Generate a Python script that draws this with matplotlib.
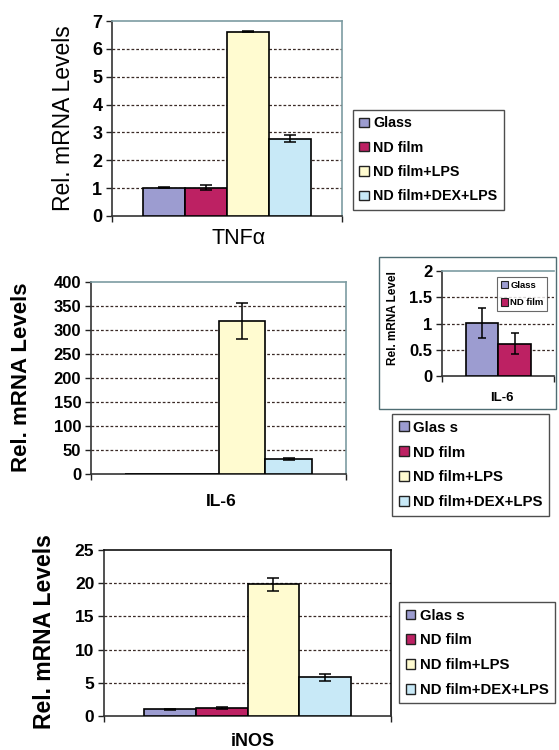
import matplotlib
matplotlib.use('Agg')
import matplotlib.pyplot as plt
from matplotlib.patches import Patch, Rectangle

plt.rcParams['font.family'] = ['Liberation Sans', 'DejaVu Sans']

# ---- data ----
groups = ['Glass', 'ND film', 'ND film+LPS', 'ND film+DEX+LPS']
legend_labels = {
    'top': ['Glass', 'ND film', 'ND film+LPS', 'ND film+DEX+LPS'],
    'mid': ['Glas s', 'ND film', 'ND film+LPS', 'ND film+DEX+LPS'],
    'bot': ['Glas s', 'ND film', 'ND film+LPS', 'ND film+DEX+LPS'],
}
bar_colors = ['#9c9cd0', '#bd2163', '#fffbd0', '#c8e9f7']

tnf_vals = [1.02, 1.02, 6.61, 2.77]
tnf_err = [0.03, 0.10, 0.02, 0.13]

il6_vals = [1.01, 0.61, 319, 31]
il6_err = [0.29, 0.20, 37.5, 2]

inset_groups = ['Glass', 'ND film']
inset_vals = [1.01, 0.61]
inset_err = [0.29, 0.20]

inos_vals = [1.0, 1.15, 19.85, 5.85]
inos_err = [0.08, 0.15, 0.95, 0.55]

W, H = 559, 750
fig = plt.figure(figsize=(W / 100, H / 100), dpi=100)


def px_axes(left, top, right, bottom):
    # axes from pixel box (origin top-left)
    return fig.add_axes([left / W, 1 - bottom / H, (right - left) / W, (bottom - top) / H])


def draw_panel(ax, vals, errs, ymax, ystep, pad, tick_size, top_color, colors=bar_colors,
               capsize=4):
    n = len(vals)
    xs = list(range(n))
    ax.bar(xs, vals, width=1.0, color=colors, edgecolor='black', linewidth=1.2, zorder=3)
    # tiny bars (well under a pixel) show no error bar in the original
    shown = [i for i in xs if vals[i] > ymax * 0.01]
    ax.errorbar([xs[i] for i in shown], [vals[i] for i in shown], yerr=[errs[i] for i in shown],
                fmt='none', ecolor='black', elinewidth=1.1, capsize=capsize, capthick=1.1,
                zorder=4)
    ax.set_xlim(-0.5 - pad[0], n - 0.5 + pad[1])
    ax.set_ylim(0, ymax)
    ticks = [i * ystep for i in range(int(round(ymax / ystep)) + 1)]
    ax.set_yticks(ticks)
    ax.set_yticklabels([('%g' % t) for t in ticks])
    ax.set_xticks(list(ax.get_xlim()))
    ax.set_xticklabels([])
    ax.tick_params(axis='y', direction='out', length=4, width=1, pad=3, colors='#222222')
    ax.tick_params(axis='x', direction='out', length=4, width=1, colors='#222222')
    for t in ax.get_yticklabels():
        t.set_color('black')
        t.set_fontweight('bold')
        t.set_fontsize(tick_size)
    for g in ticks[1:-1]:
        ax.axhline(g, color='#3a2a26', linestyle=(0, (2.2, 1.6)), linewidth=0.9, zorder=1)
    ax.spines['left'].set_color('#333333')
    ax.spines['bottom'].set_color('#333333')
    ax.spines['top'].set_color(top_color)
    ax.spines['right'].set_color(top_color)
    for s in ax.spines.values():
        s.set_linewidth(1.2)


def add_legend(labels, left, top, fontsize, spacing, colors=bar_colors, handle=0.65):
    handles = [Patch(facecolor=c, edgecolor='#222222', linewidth=1.0) for c in colors]
    leg = fig.legend(handles, labels, loc='upper left', bbox_to_anchor=(left / W, 1 - top / H),
                     prop={'weight': 'bold', 'size': fontsize},
                     frameon=True, fancybox=False, shadow=False, borderaxespad=0,
                     handlelength=handle, handleheight=handle, handletextpad=0.3,
                     labelspacing=spacing, borderpad=0.45)
    leg.get_frame().set_edgecolor('#222222')
    leg.get_frame().set_linewidth(1.0)
    return leg


# ---- TNFa panel ----
ax1 = px_axes(112, 21, 342, 216)
draw_panel(ax1, tnf_vals, tnf_err, 7, 1, (0.74, 0.74), 13, '#7d9ca2')
fig.text(63 / W, 1 - 118 / H, 'Rel. mRNA Levels', rotation=90, ha='center', va='center',
         fontsize=16.5)
fig.text(239 / W, 1 - 238 / H, 'TNF\u03b1', ha='center', va='center', fontsize=15.5)
add_legend(legend_labels['top'], 353, 110, 10.3, 0.72)

# ---- IL-6 panel ----
ax2 = px_axes(91, 282, 346, 474)
draw_panel(ax2, il6_vals, il6_err, 400, 50, (0.72, 0.72), 12, '#7d9ca2')
fig.text(22 / W, 1 - 377 / H, 'Rel. mRNA Levels', rotation=90, ha='center', va='center',
         fontsize=16, fontweight='bold')
fig.text(221 / W, 1 - 502 / H, 'IL-6', ha='center', va='center', fontsize=12.5, fontweight='bold')
add_legend(legend_labels['mid'], 392, 414, 10.8, 0.72)

# inset frame
fig.patches.append(Rectangle((379 / W, 1 - 409 / H), (556 - 379) / W, (409 - 257) / H,
                             transform=fig.transFigure, fill=False, edgecolor='#4f6d73',
                             linewidth=1.0, figure=fig))
axi = px_axes(442, 271, 554, 376)
draw_panel(axi, inset_vals, inset_err, 2, 0.5, (0.75, 0.72), 12, '#7d9ca2',
           colors=bar_colors[:2], capsize=3)
axi.spines['right'].set_visible(False)
for ln in axi.get_ygridlines():
    ln.set_visible(False)
fig.text(393 / W, 1 - 318 / H, 'Rel. mRNA Level', rotation=90, ha='center', va='center',
         fontsize=8.5, fontweight='bold')
fig.text(502 / W, 1 - 398 / H, 'IL-6', ha='center', va='center', fontsize=9.5, fontweight='bold')
ileg = axi.legend([Patch(facecolor=c, edgecolor='#222222', linewidth=0.8) for c in bar_colors[:2]],
                  inset_groups, loc='upper left', bbox_to_anchor=(497 / W, 1 - 277 / H),
                  bbox_transform=fig.transFigure, prop={'weight': 'bold', 'size': 6.8},
                  frameon=True, fancybox=False, borderaxespad=0, handlelength=0.8,
                  handleheight=0.8, handletextpad=0.2, labelspacing=0.9, borderpad=0.4)
ileg.get_frame().set_edgecolor('#444444')
ileg.get_frame().set_linewidth(0.8)

# ---- iNOS panel ----
ax3 = px_axes(104, 550, 391, 716)
draw_panel(ax3, inos_vals, inos_err, 25, 5, (0.76, 0.76), 12.5, '#111111')
fig.text(45 / W, 1 - 632 / H, 'Rel. mRNA Levels', rotation=90, ha='center', va='center',
         fontsize=16.5, fontweight='bold')
fig.text(253 / W, 1 - 741 / H, 'iNOS', ha='center', va='center', fontsize=13, fontweight='bold')
add_legend(legend_labels['bot'], 399, 602, 10.7, 0.72)

fig.savefig('out.png', dpi=100)
